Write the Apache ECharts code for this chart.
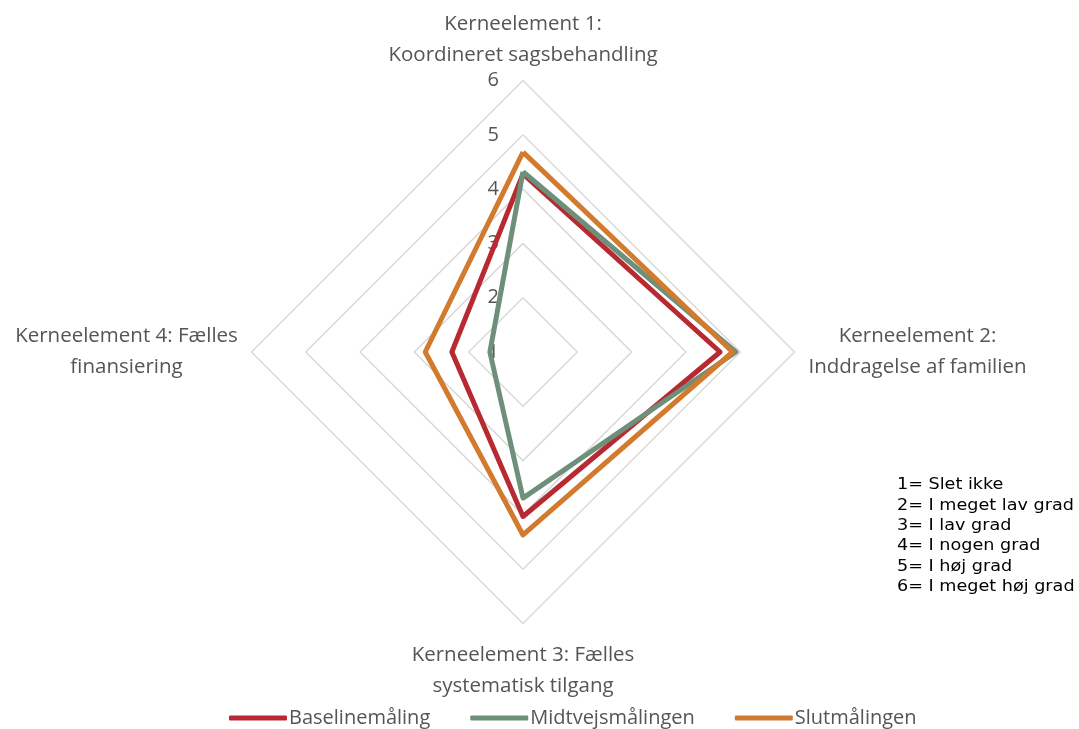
<!DOCTYPE html>
<html>
<head>
<meta charset="utf-8">
<script src="https://cdn.jsdelivr.net/npm/echarts@6/dist/echarts.min.js"></script>
<style>
html,body{margin:0;padding:0;background:#fff;}
#c{width:1079px;height:729px;}
</style>
</head>
<body>
<div id="c"></div>
<script>
const categories = [
  'Kerneelement 1:\nKoordineret sagsbehandling',
  'Kerneelement 2:\nInddragelse af familien',
  'Kerneelement 3: Fælles\nsystematisk tilgang',
  'Kerneelement 4: Fælles\nfinansiering'
];
const seriesNames = ['Baselinemåling', 'Midtvejsmålingen', 'Slutmålingen'];
const baseline = [4.28, 4.63, 4.03, 2.31];
const midtvejs = [4.32, 4.92, 3.69, 1.61];
const slut = [4.68, 4.86, 4.37, 2.80];
const scaleMin = 1, scaleMax = 6;
const scaleNotes = ['1= Slet ikke', '2= I meget lav grad', '3= I lav grad', '4= I nogen grad', '5= I høj grad', '6= I meget høj grad'];

// ECharts radar runs counter-clockwise; reorder so categories run clockwise (top, right, bottom, left)
const order = [0, 3, 2, 1];
const reorder = arr => order.map(i => arr[i]);
// rich style key per category (top, right, bottom, left)
const nameStyleKey = ['t', 'r', 'b', 'l'];

const colors = ['#B72A32', '#6E8F7A', '#D27A2E'];
const font = '"Open Sans", Lato, sans-serif';
const txtColor = '#555555';
const nameStyle = {align: 'center', lineHeight: 31, fontSize: 20.5, color: txtColor, fontFamily: font};

const chart = echarts.init(document.getElementById('c'), null, {renderer: 'canvas'});
chart.setOption({
  animation: false,
  color: colors,
  legend: {
    data: seriesNames,
    bottom: -4,
    left: 224,
    icon: 'roundRect',
    itemWidth: 58,
    itemHeight: 5,
    itemGap: 40,
    textStyle: {color: txtColor, fontSize: 20, fontFamily: font, padding: [0, 0, 0, -3]}
  },
  radar: {
    center: [523, 352],
    radius: 271.5,
    startAngle: 90,
    shape: 'polygon',
    splitNumber: 5,
    indicator: reorder(categories).map((c, i) => ({
      name: c, min: scaleMin, max: scaleMax,
      axisLabel: i === 0 ? {show: true} : {show: false}
    })),
    axisName: {
      formatter: function (v) {
        const key = nameStyleKey[categories.indexOf(v)];
        const rs = key === 'b' ? 't' : key;
        const lines = v.split('\n').map(s => '{' + rs + '|' + s + '}');
        if (key === 'b') lines.unshift('{sp| }');
        return lines.join('\n');
      },
      rich: {
        t: Object.assign({width: 320}, nameStyle),
        r: Object.assign({width: 226}, nameStyle),
        l: Object.assign({width: 230}, nameStyle),
        sp: {fontSize: 2, lineHeight: 6, width: 320}
      }
    },
    nameGap: 10,
    axisLine: {show: false},
    axisTick: {show: false},
    axisLabel: {show: false, color: txtColor, fontSize: 20, fontFamily: font, margin: 24},
    splitLine: {lineStyle: {color: '#d9d9d9', width: 1.5}},
    splitArea: {show: false}
  },
  graphic: [{
    type: 'text',
    x: 897,
    y: 475,
    scaleX: 1.1,
    style: {
      text: scaleNotes.join('\n'),
      font: '16px "DejaVu Sans", sans-serif',
      lineHeight: 20.3,
      fill: '#000'
    }
  }],
  series: [{
    type: 'radar',
    symbol: 'none',
    lineStyle: {width: 5},
    data: [
      {name: seriesNames[0], value: reorder(baseline), lineStyle: {color: colors[0], width: 5}, itemStyle: {color: colors[0]}},
      {name: seriesNames[1], value: reorder(midtvejs), lineStyle: {color: colors[1], width: 5}, itemStyle: {color: colors[1]}},
      {name: seriesNames[2], value: reorder(slut), lineStyle: {color: colors[2], width: 5}, itemStyle: {color: colors[2]}}
    ]
  }]
});
</script>
</body>
</html>
